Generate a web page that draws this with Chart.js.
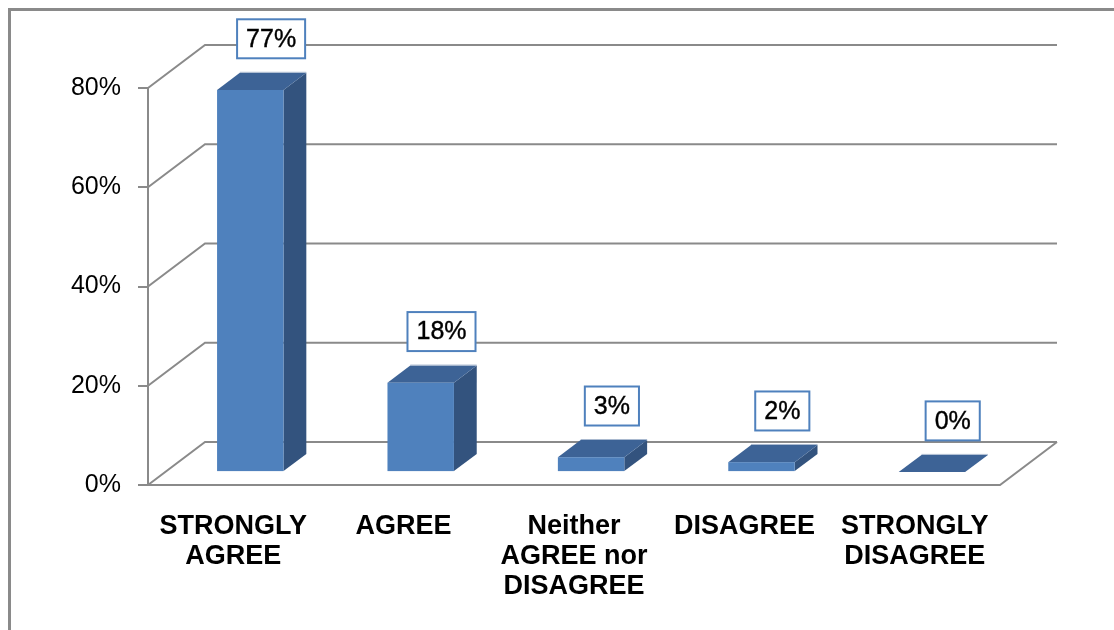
<!DOCTYPE html>
<html>
<head>
<meta charset="utf-8">
<title>Survey responses</title>
<script src="https://cdn.jsdelivr.net/npm/chart.js@4.4.1/dist/chart.umd.min.js"></script>
<style>
  html, body { margin: 0; padding: 0; background: #fff; }
  #wrap { width: 1114px; height: 630px; }
</style>
</head>
<body>
<div id="wrap"><canvas id="surveyChart" width="1114" height="630"></canvas></div>
<script>
// answers and their share of respondents (%)
const categories = [
  ['STRONGLY', 'AGREE'],
  ['AGREE'],
  ['Neither', 'AGREE nor', 'DISAGREE'],
  ['DISAGREE'],
  ['STRONGLY', 'DISAGREE']
];
const values = [77, 18, 3, 2, 0];
const yTicks = [0, 20, 40, 60, 80];

// 3D look: how far the back wall sits from the front plane
const DEPTH_X = 57;
const DEPTH_Y = -43;
const BAR_FRONT = 0.3;   // bars start 30% into the floor
const BAR_BACK = 0.7;    // ... and end at 70%

const LINE = '#8a8a8a';
const FRONT = '#4f81bd';
const TOP = '#3d6396';
const SIDE = '#33537e';
const FONT = 'Arial, "Liberation Sans", sans-serif';

// walls, floor and the outer frame
const wallsPlugin = {
  id: 'walls',
  beforeDatasetsDraw(chart) {
    const ctx = chart.ctx;
    const area = chart.chartArea;
    const y = chart.scales.y;
    ctx.save();

    // frame round the whole chart
    ctx.strokeStyle = LINE;
    ctx.lineWidth = 3;
    ctx.strokeRect(9.5, 9.5, 1200, 700);

    ctx.lineWidth = 2;
    ctx.strokeStyle = LINE;
    yTicks.forEach(t => {
      const yf = y.getPixelForValue(t);
      ctx.beginPath();
      ctx.moveTo(area.left, yf);
      ctx.lineTo(area.left + DEPTH_X, yf + DEPTH_Y);
      ctx.lineTo(area.right + DEPTH_X, yf + DEPTH_Y);
      ctx.stroke();
    });

    // floor front edge and right side
    const y0 = y.getPixelForValue(0);
    ctx.beginPath();
    ctx.moveTo(area.left - 10, y0);
    ctx.lineTo(area.right, y0);
    ctx.lineTo(area.right + DEPTH_X, y0 + DEPTH_Y);
    ctx.stroke();
    ctx.restore();
  }
};

// draws each bar as a box, then its value in a framed label
const boxesPlugin = {
  id: 'boxes',
  afterDatasetsDraw(chart) {
    const ctx = chart.ctx;
    const meta = chart.getDatasetMeta(0);
    ctx.save();
    meta.data.forEach((bar, i) => {
      const p = bar.getProps(['x', 'y', 'base', 'width'], true);
      const fx = DEPTH_X * BAR_FRONT, fy = DEPTH_Y * BAR_FRONT;
      const bx = DEPTH_X * BAR_BACK, by = DEPTH_Y * BAR_BACK;
      const l = p.x - p.width / 2, r = p.x + p.width / 2;
      const top = p.y, bot = p.base;

      // right side
      ctx.fillStyle = SIDE;
      ctx.beginPath();
      ctx.moveTo(r + fx, top + fy);
      ctx.lineTo(r + bx, top + by);
      ctx.lineTo(r + bx, bot + by);
      ctx.lineTo(r + fx, bot + fy);
      ctx.closePath();
      ctx.fill();

      // top
      ctx.fillStyle = TOP;
      ctx.beginPath();
      ctx.moveTo(l + fx, top + fy);
      ctx.lineTo(r + fx, top + fy);
      ctx.lineTo(r + bx, top + by);
      ctx.lineTo(l + bx, top + by);
      ctx.closePath();
      ctx.fill();

      // thin light edge along the back of the top
      ctx.strokeStyle = '#a9b9cf';
      ctx.lineWidth = 1;
      ctx.beginPath();
      ctx.moveTo(l + bx, top + by - 0.5);
      ctx.lineTo(r + bx, top + by - 0.5);
      ctx.stroke();

      // front
      ctx.fillStyle = FRONT;
      ctx.fillRect(l + fx, top + fy, p.width, bot - top);

      // value label in a blue frame above the back of the bar
      const txt = values[i] + '%';
      ctx.font = '25px ' + FONT;
      const tw = ctx.measureText(txt).width;
      const w = tw + 18, h = 39;
      const cx = p.x + bx - 2;
      const cy = top + by - 34;
      ctx.fillStyle = '#fff';
      ctx.fillRect(cx - w / 2, cy - h / 2, w, h);
      ctx.strokeStyle = FRONT;
      ctx.lineWidth = 2;
      ctx.strokeRect(cx - w / 2, cy - h / 2, w, h);
      ctx.fillStyle = '#000';
      ctx.strokeStyle = '#000';
      ctx.lineWidth = 0.4;
      ctx.textAlign = 'center';
      ctx.textBaseline = 'middle';
      ctx.fillText(txt, cx, cy + 1);
      ctx.strokeText(txt, cx, cy + 1);
    });
    ctx.restore();
  }
};

const ctx = document.getElementById('surveyChart').getContext('2d');
const surveyChart = new Chart(ctx, {
  type: 'bar',
  data: {
    labels: categories,
    datasets: [{
      data: values,
      backgroundColor: 'rgba(0,0,0,0)',
      borderWidth: 0,
      barPercentage: 0.39,
      categoryPercentage: 1
    }]
  },
  options: {
    responsive: false,
    animation: false,
    layout: { padding: { top: 88, right: 114, left: 0, bottom: 0 } },
    plugins: { legend: { display: false }, tooltip: { enabled: false } },
    scales: {
      x: {
        grid: { display: false, drawTicks: false },
        border: { display: false },
        ticks: {
          color: '#000',
          font: { family: FONT, size: 27, weight: 'bold', lineHeight: 1.12 },
          padding: 26,
          maxRotation: 0,
          autoSkip: false
        },
        afterFit(s) { s.height = 145; }
      },
      y: {
        min: 0,
        max: 80,
        ticks: {
          stepSize: 20,
          color: '#000',
          font: { family: FONT, size: 25 },
          padding: 17,
          callback: v => v + '%'
        },
        grid: { drawOnChartArea: false, tickLength: 10, color: LINE, lineWidth: 2 },
        border: { color: LINE, width: 2 },
        afterFit(s) { s.width = 148; }
      }
    }
  },
  plugins: [wallsPlugin, boxesPlugin]
});
</script>
</body>
</html>
